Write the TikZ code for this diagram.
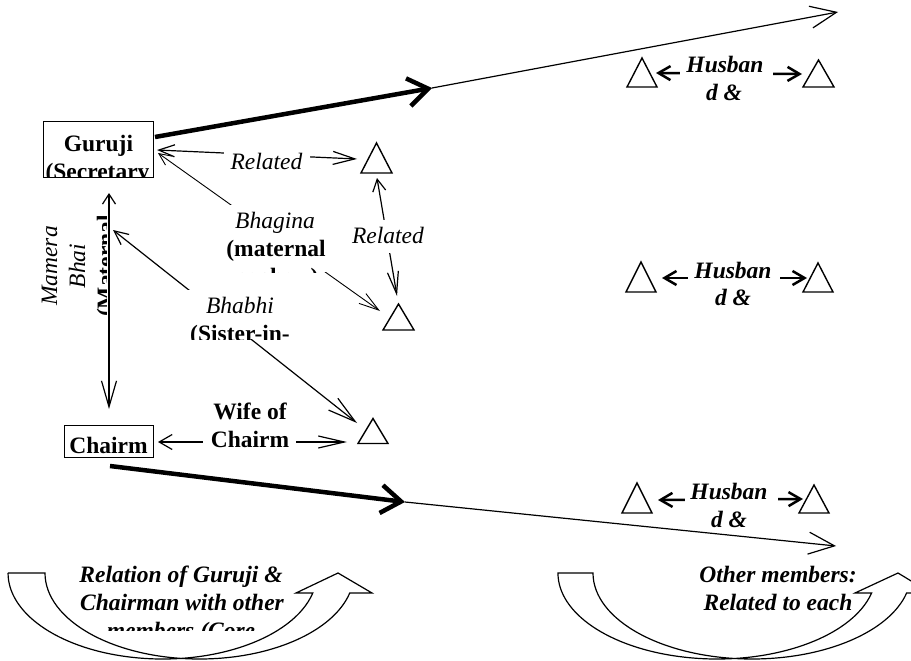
\documentclass[tikz,border=0pt]{standalone}
\usepackage{fontspec}
\setmainfont{Liberation Serif}
\usetikzlibrary{arrows.meta,calc}
\newcommand\lblfont{\fontsize{23.5}{28}\selectfont}
\begin{document}
\begin{tikzpicture}[x=1pt,y=-1pt,
  box/.style={draw, line width=1.5pt, inner sep=0pt},
  conn/.style={line width=1.2pt},
  thinconn/.style={line width=0.9pt},
  thickconn/.style={line width=4.5pt},
  husconn/.style={line width=2.5pt},
  trip/.style={line width=1.4pt, line join=miter},
  curve/.style={line width=1.2pt, line join=miter},
  txt/.style={inner sep=0pt, anchor=base},
  it/.style={txt, font=\lblfont\itshape},
  bf/.style={txt, font=\lblfont\bfseries},
  bi/.style={txt, font=\lblfont\bfseries\itshape},
  cover/.style={fill=white},
]
\clip (0,0) rectangle (911,661);
\fill[white] (0,0) rectangle (911,661);

% boxes
\node[box, minimum width=110pt, minimum height=56pt] (guru) at (98.5,149.5) {};
\node[box, minimum width=89pt, minimum height=32pt] (chair) at (109,441.5) {};
\begin{scope}
  \clip (44,122) rectangle (153,177);
  \node[bf] (gurut1) at (98.5,151) {Guruji};
  \node[bf] (gurut2) at (97.5,179) {(Secretary};
\end{scope}
\node[bf] (chairt) at (108.5,453) {Chairm};

% triangle positions
\coordinate (T1) at (376.5,158);
\coordinate (T2) at (398.5,317);
\coordinate (T3) at (373,431);
\coordinate (R1a) at (642,72.5);
\coordinate (R1b) at (818.5,73.5);
\coordinate (R2a) at (641,277);
\coordinate (R2b) at (818,277.5);
\coordinate (R3a) at (637,498);
\coordinate (R3b) at (814,499);
\draw[trip] (T1) ++(-15.5,15) -- ++(15.5,-30) -- ++(15.5,30) -- cycle;
\draw[trip] (T2) ++(-15.5,13) -- ++(15.5,-26) -- ++(15.5,26) -- cycle;
\draw[trip] (T3) ++(-15,12.5) -- ++(15,-25) -- ++(15,25) -- cycle;
\draw[trip] (R1a) ++(-15,14.5) -- ++(15,-29) -- ++(15,29) -- cycle;
\draw[trip] (R1b) ++(-15.5,13.5) -- ++(15.5,-27) -- ++(15.5,27) -- cycle;
\draw[trip] (R2a) ++(-15,15) -- ++(15,-30) -- ++(15,30) -- cycle;
\draw[trip] (R2b) ++(-15,14.5) -- ++(15,-29) -- ++(15,29) -- cycle;
\draw[trip] (R3a) ++(-15,15) -- ++(15,-30) -- ++(15,30) -- cycle;
\draw[trip] (R3b) ++(-15,14) -- ++(15,-28) -- ++(15,28) -- cycle;

% connector end points
\coordinate (relL) at (157,150);
\coordinate (relR) at (357,159);
\coordinate (bhagL) at (158,153);
\coordinate (bhagR) at (380,311);
\coordinate (vrelT) at (377,178);
\coordinate (vrelB) at (397,296);
\coordinate (mamT) at (109,193);
\coordinate (mamB) at (109,409);
\coordinate (bhabT) at (113,230);
\coordinate (bhabB) at (357,423);
\coordinate (wifeL) at (158,442);
\coordinate (wifeR) at (347,442);
\coordinate (th1s) at (155,137);
\coordinate (mid1) at (432,88);
\coordinate (end1) at (838,12);
\coordinate (th2s) at (110,466);
\coordinate (mid2) at (405,502);
\coordinate (end2) at (836,546);
\coordinate (h1L) at (656,73);
\coordinate (h1R) at (802,74);
\coordinate (h2L) at (662,278);
\coordinate (h2R) at (807,278);
\coordinate (h3L) at (658,500);
\coordinate (h3R) at (803,499);

% connectors
\draw[conn, {Straight Barb[length=16pt,width=12pt]}-{Straight Barb[length=22pt,width=13pt]}] (relL) -- (relR);
\draw[thinconn, {Straight Barb[length=12pt,width=11pt]}-{Straight Barb[length=20pt,width=12pt]}] (bhagL) -- (bhagR);
\draw[conn, {Straight Barb[length=12pt,width=13pt]}-{Straight Barb[length=22pt,width=11pt]}] (vrelT) -- (vrelB);
\draw[conn, {Straight Barb[length=10pt,width=13pt]}-{Straight Barb[length=26pt,width=15pt]}] (mamT) -- (mamB);
\draw[conn, {Straight Barb[length=14pt,width=13pt]}-{Straight Barb[length=28pt,width=15pt]}] (bhabT) -- (bhabB);
\draw[conn, {Straight Barb[length=13pt,width=15pt]}-{Straight Barb[length=26pt,width=12pt]}] (wifeL) -- (wifeR);
\draw[thickconn, -{Straight Barb[length=20pt,width=28pt]}] (th1s) -- (mid1);
\draw[conn, -{Straight Barb[length=26pt,width=22pt]}] (mid1) -- (end1);
\draw[thickconn, -{Straight Barb[length=20pt,width=28pt]}] (th2s) -- (mid2);
\draw[conn, -{Straight Barb[length=26pt,width=22pt]}] (mid2) -- (end2);
\draw[husconn, {Straight Barb[length=12pt,width=14pt]}-{Straight Barb[length=12pt,width=14pt]}] (h1L) -- (h1R);
\draw[husconn, {Straight Barb[length=12pt,width=14pt]}-{Straight Barb[length=12pt,width=14pt]}] (h2L) -- (h2R);
\draw[husconn, {Straight Barb[length=12pt,width=14pt]}-{Straight Barb[length=12pt,width=14pt]}] (h3L) -- (h3R);

% labels
\fill[cover] (224,146) rectangle (310,176);
\node[it] (lrel1) at (266.5,169) {Related};

\begin{scope}
  \clip (222,205) rectangle (332,272);
  \fill[cover] (222,205) rectangle (332,272);
  \node[it] (lbh1) at (275,228) {Bhagina};
  \node[bf] (lbh2) at (276,256) {(maternal};
  \node[bf] (lbh3) at (276,284) {nephew)};
\end{scope}

\fill[cover] (349,220) rectangle (428,253);
\node[it] (lrel2) at (388,243) {Related};

\begin{scope}
  \clip (185,290) rectangle (297,339);
  \fill[cover] (185,290) rectangle (297,339);
  \node[it] (lbb1) at (240,313) {Bhabhi};
  \node[bf] (lbb2) at (240,341) {(Sister-in-};
\end{scope}

\fill[cover] (203,395) rectangle (296,455);
\node[bf] (lwf1) at (250,419) {Wife of};
\node[bf] (lwf2) at (250,447) {Chairm};

\begin{scope}
  \clip (30,210) rectangle (106,322);
  \node[it, rotate=90] (lmb1) at (57,266) {Mamera};
  \node[it, rotate=90] (lmb2) at (85,266) {Bhai};
  \node[bf, rotate=90] (lmb3) at (113,266) {(Maternal};
\end{scope}

\fill[cover] (680,52) rectangle (773,106);
\node[bi] (lh1a) at (725,73) {Husban};
\node[bi] (lh1b) at (724,100) {d \&};
\fill[cover] (688,258) rectangle (780,310);
\node[bi] (lh2a) at (733,278) {Husban};
\node[bi] (lh2b) at (733,305) {d \&};
\fill[cover] (685,480) rectangle (778,530);
\node[bi] (lh3a) at (729,499) {Husban};
\node[bi] (lh3b) at (729,527) {d \&};

% curved arrows
\draw[curve] (8,573) -- (45,573)
  arc[start angle=180, end angle=13.45, x radius=154.5, y radius=86]
  -- (372,593) -- (338,573) -- (296,593) -- (312.8,593)
  arc[start angle=13.45, end angle=180, x radius=154.5, y radius=86] -- cycle;
\draw[curve] (558,573) -- (593,573)
  arc[start angle=180, end angle=13.45, x radius=159, y radius=86]
  -- (931,593) -- (898,573) -- (855,593) -- (871.6,593)
  arc[start angle=13.45, end angle=180, x radius=159, y radius=86] -- cycle;

\node[bi] (lc1) at (181,582) {Relation of Guruji \&};
\node[bi] (lc2) at (182,610) {Chairman with other};
\begin{scope}
  \clip (60,615) rectangle (310,630);
  \node[bi] (lc3) at (181,638) {members (Core};
\end{scope}
\node[bi] (lo1) at (778,582) {Other members:};
\node[bi] (lo2) at (778,610) {Related to each};
\end{tikzpicture}
\end{document}
